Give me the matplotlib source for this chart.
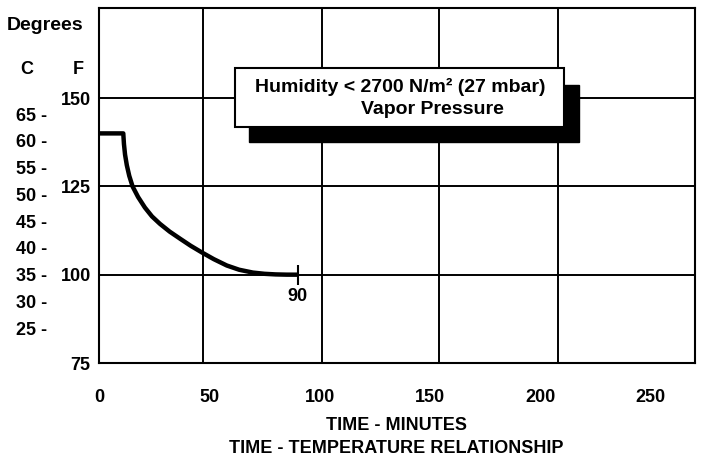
import matplotlib
matplotlib.use("Agg")
import matplotlib.pyplot as plt
from matplotlib.patches import Rectangle

plt.rcParams['font.family'] = ['Liberation Sans', 'DejaVu Sans']
plt.rcParams['font.weight'] = 'bold'

# --- data ---
time_min = [0, 11, 11.3, 11.8, 12.6, 13.7, 15.2, 17.7, 20.8, 24, 27.6, 32, 36.7, 41.5, 46.6,
            52, 57.9, 63.5, 69.7, 75, 80, 85, 90]
temp_f = [140, 140, 137, 134, 131, 128, 125, 122, 119, 116.5, 114.4, 112.2, 110.2, 108.2, 106.3,
          104.4, 102.6, 101.4, 100.6, 100.25, 100.08, 100.01, 100]
end_time = 90
x_ticks = [0, 50, 100, 150, 200, 250]
x_grid = [47, 101, 154, 208]
f_ticks = [75, 100, 125, 150]
c_ticks = [25, 30, 35, 40, 45, 50, 55, 60, 65]
legend_lines = ["Humidity < 2700 N/m\u00b2 (27 mbar)", "Vapor Pressure"]
x_title = "TIME - MINUTES"
caption = "TIME - TEMPERATURE RELATIONSHIP"

W, H = 712, 465
fig = plt.figure(figsize=(W / 100, H / 100), dpi=100)
L, R, T, B = 99, 695, 8, 363
ax = fig.add_axes([L / W, 1 - B / H, (R - L) / W, (B - T) / H])

FS = 13
ax.set_xlim(0, 270)
ax.set_ylim(75, 175.5)

ax.plot(time_min, temp_f, color='black', lw=3.2, solid_capstyle='butt', solid_joinstyle='round', zorder=3)
ax.plot([end_time], [temp_f[-1]], marker='|', color='black', markersize=14, mew=1.5, zorder=3)
ax.annotate(str(end_time), (end_time, temp_f[-1]), xytext=(0, -16), textcoords='offset points',
            ha='center', va='center', fontsize=FS, fontweight='bold')

ax.set_xticks(x_ticks)
ax.set_xticklabels([str(v) for v in x_ticks])
ax.set_xticks(x_grid, minor=True)
ax.set_yticks(f_ticks)
ax.set_yticklabels([str(v) for v in f_ticks])
ax.tick_params(axis='both', which='both', length=0)
ax.tick_params(axis='x', pad=19, labelsize=FS)
ax.tick_params(axis='y', pad=6, labelsize=FS)
ax.grid(False)
ax.xaxis.grid(True, which='minor', color='black', lw=1.4)
ax.yaxis.grid(True, which='major', color='black', lw=1.4)
for s in ax.spines.values():
    s.set_linewidth(1.5)

# Celsius scale (approximate, as in reference)
ax2 = ax.twinx()
ax2.set_ylim(18.5, 84.8)
ax2.yaxis.set_ticks_position('left')
ax2.set_yticks(c_ticks)
ax2.set_yticklabels([f"{v} -" for v in c_ticks])
ax2.tick_params(axis='y', length=0, pad=37, labelsize=FS)
for s in ax2.spines.values():
    s.set_visible(False)

# legend box with shadow
ax.add_patch(Rectangle((0.252, 0.623), 0.553, 0.16, transform=ax.transAxes,
                       facecolor='black', edgecolor='black', zorder=4, clip_on=False))
ax.add_patch(Rectangle((0.228, 0.665), 0.552, 0.166, transform=ax.transAxes,
                       facecolor='white', edgecolor='black', lw=1.5, zorder=5, clip_on=False))
ax.text(0.505, 0.777, legend_lines[0], transform=ax.transAxes, ha='center', va='center',
        fontsize=14, fontweight='bold', zorder=6)
ax.text(0.560, 0.713, legend_lines[1], transform=ax.transAxes, ha='center', va='center',
        fontsize=14, fontweight='bold', zorder=6)

# headers
fig.text(7 / W, 1 - 25 / H, "Degrees", ha='left', va='center', fontsize=14, fontweight='bold')
fig.text(27 / W, 1 - 70 / H, "C", ha='center', va='center', fontsize=FS, fontweight='bold')
fig.text(78 / W, 1 - 70 / H, "F", ha='center', va='center', fontsize=FS, fontweight='bold')

fig.text(396 / W, 1 - 425 / H, x_title, ha='center', va='center', fontsize=FS, fontweight='bold')
fig.text(396 / W, 1 - 448 / H, caption, ha='center', va='center', fontsize=FS, fontweight='bold')

fig.savefig("out.png", dpi=100)
